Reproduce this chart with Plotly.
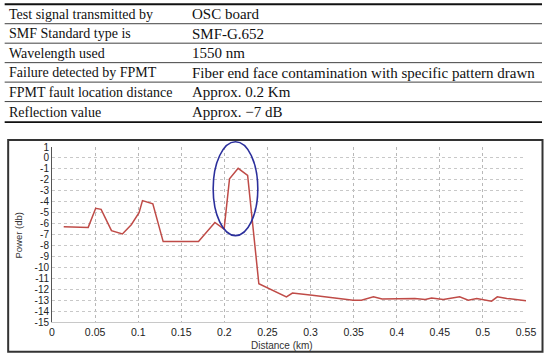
import plotly.graph_objects as go

# ---- table content ----
table_labels = ["Test signal transmitted by", "SMF Standard type is", "Wavelength used",
                "Failure detected by FPMT", "FPMT fault location distance", "Reflection value"]
table_values = ["OSC board", "SMF-G.652", "1550 nm",
                "Fiber end face contamination with specific pattern drawn",
                "Approx. 0.2 Km", "Approx. \u22127 dB"]

# ---- trace data ----
distance_km = [0.0136, 0.042, 0.0507, 0.057, 0.069, 0.0817, 0.092, 0.101, 0.105, 0.117,
               0.129, 0.170, 0.189, 0.1997, 0.206, 0.216, 0.227, 0.240, 0.272, 0.279,
               0.302, 0.3495, 0.359, 0.373, 0.383, 0.396, 0.4115, 0.421, 0.433, 0.4405,
               0.454, 0.473, 0.483, 0.4928, 0.510, 0.5167, 0.5277, 0.55]
power_db = [-6.28, -6.35, -4.6, -4.7, -6.65, -6.95, -6.1, -5.0, -3.9, -4.2,
            -7.65, -7.65, -5.9, -6.5, -1.9, -0.95, -1.6, -11.5, -12.7, -12.35,
            -12.55, -13.0, -13.0, -12.7, -12.9, -12.9, -12.9, -12.85, -12.95, -12.8,
            -12.95, -12.7, -13.0, -12.85, -13.1, -12.7, -12.85, -13.05]

x_tickvals = [0, 0.05, 0.1, 0.15, 0.2, 0.25, 0.3, 0.35, 0.4, 0.45, 0.5, 0.55]
x_ticktext = ["0", "0.05", "0.1", "0.15", "0.2", "0.25", "0.3", "0.35", "0.4", "0.45", "0.5", "0.55"]
y_tickvals = list(range(-15, 2))
y_ticktext = [str(v) for v in y_tickvals]

# fault highlight ellipse (data units)
fault_x = [0.187, 0.2388]
fault_y = [-7.1, 1.48]

W, H = 550, 359
PL, PR, PT, PB = 52.3, 526, 147, 322.3
X_RANGE = [0, 0.55]
Y_RANGE = [-15, 1]


def px(x):
    return (x - PL) / (PR - PL)


def py(y):
    return (PB - y) / (PB - PT)


fig = go.Figure()
fig.add_trace(go.Scatter(x=distance_km, y=power_db, mode="lines",
                         line=dict(color="#bf4b47", width=1.5),
                         hoverinfo="skip", showlegend=False))

shapes = []
annotations = []

# table rules
row_tops = [4, 23.5, 43, 62.5, 82, 101.5, 122]
for i, yy in enumerate(row_tops):
    thick = (i == 0 or i == len(row_tops) - 1)
    shapes.append(dict(type="line", xref="paper", yref="paper",
                       x0=px(5), x1=px(542), y0=py(yy), y1=py(yy),
                       line=dict(color="#111", width=1.8 if thick else 0.8)))
for i, (lab, val) in enumerate(zip(table_labels, table_values)):
    yc = (row_tops[i] + row_tops[i + 1]) / 2 + 0.5
    annotations.append(dict(xref="paper", yref="paper", x=px(7), y=py(yc), text=lab,
                            showarrow=False, xanchor="left", yanchor="middle",
                            font=dict(family="Liberation Serif", size=14, color="#111")))
    annotations.append(dict(xref="paper", yref="paper", x=px(190), y=py(yc), text=val,
                            showarrow=False, xanchor="left", yanchor="middle",
                            font=dict(family="Liberation Serif", size=15, color="#111")))

# chart frame
shapes.append(dict(type="rect", xref="paper", yref="paper",
                   x0=px(8.5), x1=px(542.5), y0=py(140), y1=py(352),
                   line=dict(color="#333", width=2), fillcolor="rgba(0,0,0,0)"))

# ellipse (domain refs so it is not clipped)
shapes.append(dict(type="circle", xref="x domain", yref="y domain",
                   x0=(fault_x[0] - X_RANGE[0]) / (X_RANGE[1] - X_RANGE[0]),
                   x1=(fault_x[1] - X_RANGE[0]) / (X_RANGE[1] - X_RANGE[0]),
                   y0=(fault_y[0] - Y_RANGE[0]) / (Y_RANGE[1] - Y_RANGE[0]),
                   y1=(fault_y[1] - Y_RANGE[0]) / (Y_RANGE[1] - Y_RANGE[0]),
                   line=dict(color="#2b2f9c", width=1.6)))

# axis titles
annotations.append(dict(xref="paper", yref="paper", x=px(19), y=py(236), text="Power (db)",
                        textangle=-90, showarrow=False, xanchor="center", yanchor="middle",
                        font=dict(family="Liberation Sans", size=9.5, color="#333")))
annotations.append(dict(xref="paper", yref="paper", x=px(282), y=py(345.5), text="Distance (km)",
                        showarrow=False, xanchor="center", yanchor="middle",
                        font=dict(family="Liberation Sans", size=10, color="#333")))

fig.update_layout(
    width=W, height=H,
    margin=dict(l=PL, r=W - PR, t=PT, b=H - PB),
    paper_bgcolor="white", plot_bgcolor="white",
    shapes=shapes, annotations=annotations,
    showlegend=False,
    xaxis=dict(range=X_RANGE, tickvals=x_tickvals, ticktext=x_ticktext,
               showgrid=True, gridcolor="#b8b8b8", griddash="dot", gridwidth=1,
               showline=True, linecolor="#c8c8c8", linewidth=1, zeroline=False,
               ticks="", ticklen=0,
               tickfont=dict(family="Liberation Sans", size=10.5, color="#222")),
    yaxis=dict(range=Y_RANGE, tickvals=y_tickvals, ticktext=y_ticktext,
               showgrid=True, gridcolor="#c8c8c8", griddash="dot", gridwidth=1,
               showline=True, linecolor="#555", linewidth=1, zeroline=False,
               ticks="", ticklen=0,
               tickfont=dict(family="Liberation Sans", size=10, color="#222")),
)

fig.write_html("out.html", config={"displayModeBar": False},
               post_script="document.body.style.margin='0';document.body.style.overflow='hidden';")
